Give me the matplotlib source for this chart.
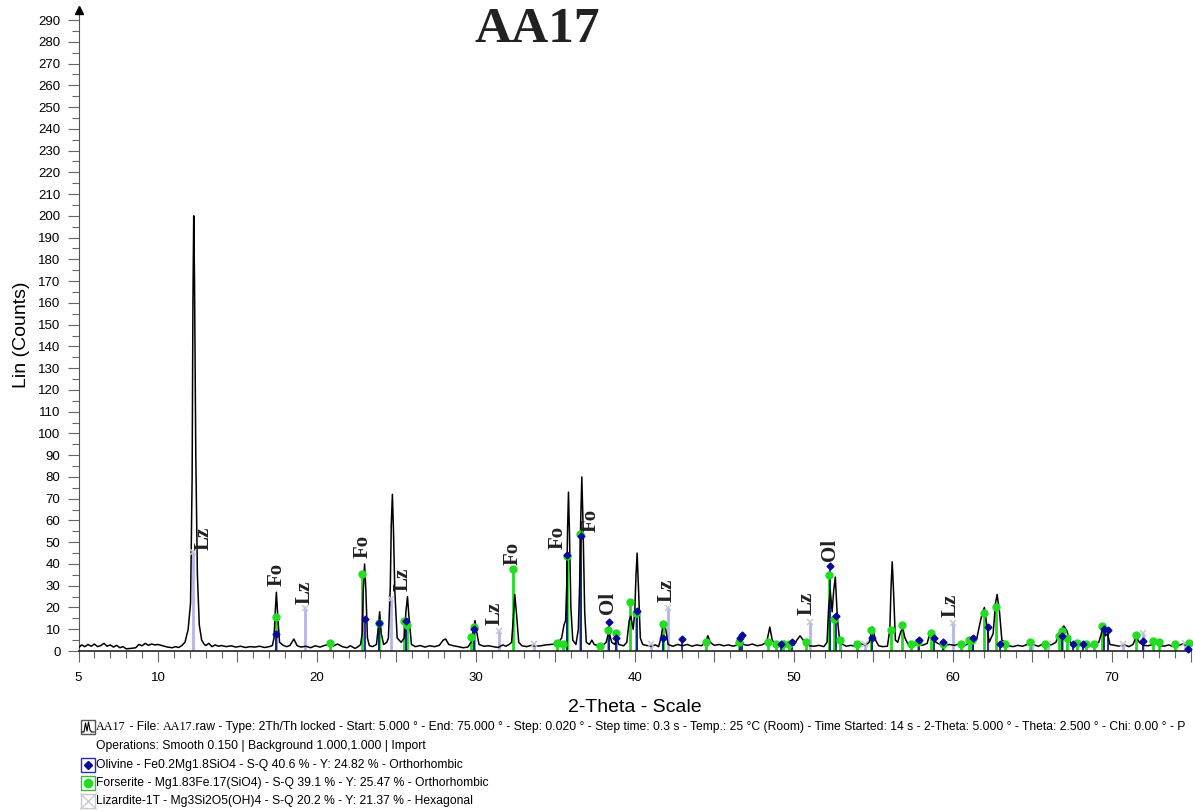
import matplotlib
matplotlib.use("Agg")
import matplotlib.pyplot as plt
from matplotlib.lines import Line2D
from matplotlib.patches import Rectangle
from matplotlib.ticker import MultipleLocator, FixedLocator, FuncFormatter
import numpy as np

plt.rcParams['font.family'] = ['Liberation Sans', 'DejaVu Sans']
SERIF = ['Liberation Serif', 'DejaVu Serif']

scan = [
    (5.0, 1.5), (5.2, 2.8), (5.4, 2.0), (5.6, 3.0), (5.8, 2.2), (6.0, 3.2), (6.2, 2.0),
    (6.4, 2.5), (6.6, 3.5), (6.8, 2.2), (7.0, 2.8), (7.2, 1.8), (7.4, 2.6), (7.6, 1.5),
    (7.8, 2.0), (8.0, 1.0), (8.3, 1.2), (8.6, 1.5), (8.8, 3.0), (9.0, 2.4), (9.2, 3.5),
    (9.4, 2.6), (9.6, 3.2), (9.8, 2.8), (10.0, 3.0), (10.3, 2.4), (10.6, 1.8), (10.9, 1.5),
    (11.1, 2.0), (11.3, 1.6), (11.5, 2.5), (11.7, 4), (11.9, 10), (12.05, 22), (12.15, 80),
    (12.2, 160), (12.25, 200), (12.3, 170), (12.38, 90), (12.48, 35), (12.6, 12), (12.75, 5),
    (12.9, 3.2), (13.0, 2.5),
    (13.2, 3.5), (13.4, 2.0), (13.6, 2.8), (13.8, 2.2), (14.0, 2.5), (14.3, 2.0), (14.6, 2.4),
    (14.9, 1.8), (15.2, 2.2), (15.5, 1.6), (15.8, 2.0), (16.1, 1.8), (16.4, 2.2), (16.7, 1.6),
    (17.0, 2.0), (17.2, 2.5), (17.3, 6), (17.38, 18), (17.45, 27), (17.53, 17), (17.65, 4),
    (17.9, 2.5),
    (18.1, 2.0), (18.3, 2.5), (18.55, 5.5), (18.75, 2.5), (19.0, 1.8), (19.3, 2.2), (19.6, 1.5),
    (19.9, 2.4), (20.2, 1.8), (20.5, 2.6), (20.8, 3.0), (21.0, 2.2), (21.3, 3.2), (21.6, 2.0),
    (21.9, 1.5), (22.1, 2.4), (22.4, 1.2), (22.6, 2.0), (22.75, 3), (22.85, 8), (22.92, 28),
    (23.0, 40), (23.08, 28), (23.18, 6), (23.3, 2.5), (23.5, 2), (23.75, 3), (23.85, 10),
    (23.95, 18), (24.05, 8),
    (24.2, 3), (24.4, 4), (24.5, 6), (24.62, 30), (24.68, 58), (24.75, 72), (24.82, 55),
    (24.9, 28), (25.05, 6), (25.3, 4),
    (25.5, 6), (25.6, 18), (25.7, 25), (25.8, 15), (25.95, 3), (26.2, 2), (26.5, 2.5),
    (26.8, 1.8), (27.1, 2.4), (27.4, 2.0), (27.7, 2.6), (27.95, 5), (28.1, 5.5), (28.3, 3),
    (28.6, 2.4), (28.9, 2.0), (29.2, 1.5), (29.5, 1.8), (29.7, 4), (29.85, 10), (29.95, 14),
    (30.05, 9), (30.2, 3), (30.5, 2.2), (30.8, 2.4), (31.1, 2.0), (31.4, 1.6), (31.7, 2.8),
    (31.9, 2.2), (32.1, 3.0), (32.25, 4), (32.35, 14), (32.45, 26), (32.55, 18), (32.7, 4),
    (32.9, 2.4), (33.2, 2.0), (33.5, 2.6), (33.8, 2.2), (34.1, 2.4), (34.4, 2.8), (34.7, 3.0),
    (35.0, 3.2), (35.2, 4), (35.4, 6), (35.55, 12), (35.65, 14), (35.72, 30), (35.77, 55),
    (35.83, 73), (35.89, 55), (35.98, 20), (36.1, 5), (36.3, 3), (36.45, 10), (36.53, 30),
    (36.6, 60), (36.67, 80), (36.74, 60), (36.85, 18),
    (36.95, 4), (37.15, 3), (37.3, 5), (37.45, 3), (37.7, 2.4), (38.0, 2.6), (38.2, 4),
    (38.37, 9), (38.55, 4), (38.75, 3), (38.87, 6), (39.0, 3), (39.3, 2.4), (39.5, 4),
    (39.65, 14), (39.75, 16), (39.9, 10), (40.0, 18), (40.08, 35), (40.15, 45), (40.23, 30),
    (40.35, 6), (40.5, 3),
    (40.7, 2.6), (41.0, 2.2), (41.3, 2.8), (41.5, 2.0), (41.65, 6), (41.8, 13), (41.95, 10),
    (42.1, 3), (42.4, 2.2), (42.7, 3.0), (43.0, 2.4), (43.3, 3.0), (43.6, 2.2), (43.9, 2.8),
    (44.2, 2.4), (44.45, 4), (44.6, 7), (44.75, 4), (45.0, 2.6), (45.3, 3.0), (45.6, 2.4),
    (45.9, 2.8), (46.2, 2.2), (46.5, 3.0), (46.7, 5), (46.85, 3), (47.1, 2.6), (47.4, 3.2),
    (47.7, 2.4), (48.0, 2.8), (48.3, 4), (48.5, 11), (48.65, 5), (48.85, 3), (49.0, 4),
    (49.2, 3), (49.4, 4.5), (49.6, 2.8), (49.8, 3.5), (50.0, 2.6), (50.2, 5), (50.4, 7),
    (50.6, 5), (50.8, 3), (51.0, 2.4), (51.3, 2.2), (51.6, 2.6), (51.9, 2.0), (52.1, 4),
    (52.2, 20), (52.3, 28), (52.42, 18), (52.52, 28), (52.62, 34), (52.75, 15), (52.9, 4),
    (53.1, 3), (53.3, 2.2), (53.6, 2.6), (53.9, 2.0), (54.2, 3.4), (54.5, 2.6), (54.75, 4),
    (54.95, 11), (55.15, 5), (55.35, 2.4), (55.6, 2.0), (55.9, 2.2), (56.05, 10), (56.13, 30),
    (56.2, 41), (56.28, 28), (56.4, 5), (56.55, 4), (56.7, 8), (56.85, 11), (57.0, 6), (57.2, 3),
    (57.5, 2.4),
    (57.8, 3.0), (58.1, 2.6), (58.4, 3.5), (58.6, 9), (58.75, 8), (58.95, 4), (59.2, 3),
    (59.5, 2.6), (59.8, 3.0), (60.1, 2.6), (60.4, 3.2), (60.7, 2.4), (60.9, 3.0), (61.1, 5),
    (61.3, 6), (61.5, 5), (61.7, 12), (61.85, 17), (62.0, 20), (62.15, 12), (62.3, 4),
    (62.55, 8), (62.7, 22), (62.8, 26), (62.95, 18), (63.1, 5), (63.3, 4), (63.5, 2.5),
    (63.8, 2.0), (64.1, 2.6), (64.4, 2.2), (64.7, 3.0), (64.9, 4), (65.1, 2.8), (65.4, 2.2),
    (65.7, 3.2), (65.9, 2.4), (66.2, 2.8), (66.5, 4), (66.75, 9), (67.0, 11.5), (67.2, 9),
    (67.4, 4), (67.6, 3.5), (67.8, 4), (68.0, 2.8), (68.3, 3.2), (68.6, 2.4), (68.9, 3.0),
    (69.2, 4), (69.4, 9), (69.5, 10.5), (69.62, 7), (69.75, 8), (69.9, 3), (70.2, 2.6),
    (70.5, 2.2), (70.8, 2.8), (71.1, 2.0), (71.35, 3), (71.55, 6.5), (71.75, 4), (72.0, 2.6),
    (72.3, 2.4), (72.6, 3.0), (72.8, 4), (73.0, 2.6), (73.3, 2.2), (73.6, 2.8), (73.9, 2.0),
    (74.2, 2.6), (74.5, 3.2), (74.8, 2.4), (75.0, 2.5),
]
scan_2theta = [p[0] for p in scan]
scan_counts = [p[1] for p in scan]

# reference sticks
ol_pos = [17.45, 23.0, 23.9, 25.6, 29.9, 35.75, 36.6, 38.35, 38.85, 40.13, 41.75, 43.0,
          46.6, 46.75, 49.2, 49.9, 52.28, 52.65, 54.95, 57.9, 58.8, 59.4, 61.3, 62.2,
          63.0, 66.9, 67.6, 68.2, 69.5, 69.75, 72.0, 74.8]
ol_int = [8, 14.5, 13, 14, 10, 44, 53, 13.5, 6, 18.5, 6, 5.5,
          6, 7.3, 3, 4, 39, 16, 6, 5, 6, 4, 6, 11,
          3, 7, 3, 3, 10, 9.6, 4.5, 1]

fo_pos = [17.42, 20.8, 22.85, 23.88, 25.5, 25.65, 29.67, 29.9, 32.35, 35.1, 35.5, 35.72,
          36.54, 37.8, 38.3, 38.82, 39.68, 40.08, 41.75, 44.5, 46.55, 48.4, 48.9, 49.3,
          49.7, 50.8, 52.2, 52.55, 52.9, 54.0, 54.85, 56.1, 56.8, 57.4, 57.8, 58.66,
          59.4, 60.5, 61.0, 61.2, 61.95, 62.75, 63.3, 64.84, 65.8, 66.7, 66.9, 67.2,
          67.8, 68.4, 68.9, 69.4, 71.55, 72.6, 73.0, 74.0, 74.9]
fo_int = [15.5, 3.5, 35.4, 13, 14, 12, 6.6, 11, 37.5, 3.5, 3, 43.5,
          54, 2.5, 9.6, 8.2, 22.7, 17.4, 12.4, 4, 4, 4, 3, 3,
          3, 4, 35, 14.5, 5, 3, 9.7, 9.6, 11.9, 3, 4, 8.2,
          3, 3, 5, 5, 17.4, 20.4, 3, 4, 3, 7, 9, 6,
          3.5, 3, 3, 11.4, 7.3, 4.5, 4, 3, 3.5]

lz_pos = [12.22, 19.27, 24.65, 31.43, 33.67, 41.05, 42.12, 51.05, 54.0, 54.5, 60.05,
          65.0, 66.0, 70.7, 72.0, 74.6]
lz_int = [45.6, 19.6, 23.7, 9.3, 3, 3, 19.6, 13.5, 3, 3, 12.7,
          3, 3, 3, 8.2, 3.5]

# phase labels written on the pattern
tag_text = ['Lz', 'Fo', 'Lz', 'Fo', 'Lz', 'Lz', 'Fo', 'Fo', 'Fo', 'Ol', 'Lz', 'Lz', 'Ol', 'Lz']
tag_x = [12.85, 17.48, 19.2, 22.85, 25.4, 31.2, 32.3, 35.15, 37.25, 38.3, 42.0, 50.8, 52.26, 59.9]
tag_y = [52, 35, 27, 48, 33, 17.5, 45, 52, 60, 22, 28, 22, 46.5, 21]

y_ticks = list(range(0, 300, 10))
x_ticks = [5, 10, 15, 20, 25, 30, 35, 40, 45, 50, 55, 60, 65, 70, 75]
x_tick_labels = [5, 10, 20, 30, 40, 50, 60, 70]

OL_C = '#0a0a9a'
FO_C = '#22dd22'
LZ_C = '#b4b4ec'
LZ_MK = '#c8c8d4'

W, H = 1193, 811
fig = plt.figure(figsize=(W / 100, H / 100), dpi=100)
ax = fig.add_axes([78.5 / W, 160 / H, (1191 - 78.5) / W, (651 - 10) / H])
ax.set_xlim(5, 75)
ax.set_ylim(0, 294.6)

# sticks
ax.vlines(lz_pos, 0, lz_int, colors=LZ_C, linewidth=2, zorder=2)
ax.vlines(fo_pos, 0, fo_int, colors=FO_C, linewidth=2, zorder=2.1)
ax.vlines(ol_pos, 0, ol_int, colors=OL_C, linewidth=1.2, zorder=2.2)

ax.plot(scan_2theta, scan_counts, color='black', linewidth=1.1, zorder=3)

ax.plot(lz_pos, lz_int, 'x', color=LZ_MK, markersize=5, mew=1.1, zorder=4, clip_on=False)
ax.plot(fo_pos, fo_int, 'o', color=FO_C, markersize=5, zorder=4.1, clip_on=False)
ax.plot(ol_pos, ol_int, 'D', color=OL_C, markersize=3.5, zorder=4.2, clip_on=False)

for s, x, y in zip(tag_text, tag_x, tag_y):
    ax.text(x, y, s, rotation=90, ha='center', va='center', fontsize=15,
            fontweight='bold', family=SERIF, color='#222222', zorder=5)

# axes styling
for side in ['top', 'right']:
    ax.spines[side].set_visible(False)
ax.spines['left'].set_color('#555555')
ax.spines['bottom'].set_color('#222222')
ax.spines['bottom'].set_linewidth(1.2)
ax.plot(5, 1, marker='^', color='black', markersize=6, transform=ax.get_xaxis_transform(),
        clip_on=False, zorder=6)

ax.yaxis.set_major_locator(FixedLocator(y_ticks))
ax.yaxis.set_minor_locator(MultipleLocator(5))
ax.xaxis.set_major_locator(FixedLocator(x_ticks))
ax.xaxis.set_minor_locator(MultipleLocator(1))
ax.xaxis.set_major_formatter(FuncFormatter(lambda v, p: str(int(v)) if int(v) in x_tick_labels else ''))
ax.tick_params(axis='y', which='major', direction='out', length=8, width=0.8,
               color='#666666', labelsize=9.5, pad=5)
ax.tick_params(axis='y', which='minor', direction='out', length=5, width=0.8, color='#666666')
ax.tick_params(axis='x', which='major', direction='out', length=8, width=0.8,
               color='#666666', labelsize=9.5, pad=7)
ax.tick_params(axis='x', which='minor', direction='out', length=5, width=0.8, color='#666666')

fig.text(537 / W, 1 - 30 / H, 'AA17', fontsize=37, fontweight='bold', family=SERIF,
         ha='center', va='center', color='#222222')
fig.text(635 / W, 1 - 707 / H, '2-Theta - Scale', fontsize=14, ha='center', va='center')
fig.text(22 / W, 1 - 335 / H, 'Lin (Counts)', fontsize=14, rotation=90, ha='center', va='center')

# legend block under the plot
LEG_FS = 8.7
rows_y = [727, 746, 765, 783, 801]


def fx(px):
    return px / W


def fy(py):
    return 1 - py / H


# first row: mixed fonts, chained
parts = [('AA17', True), (' - File: ', False), ('AA17', True),
         ('.raw - Type: 2Th/Th locked - Start: 5.000 ° - End: 75.000 ° - Step: 0.020 ° - Step time: 0.3 s'
          ' - Temp.: 25 °C (Room) - Time Started: 14 s - 2-Theta: 5.000 ° - Theta: 2.500 ° - Chi: 0.00 ° - P', False)]
prev = fig.text(fx(96), fy(rows_y[0]), parts[0][0], fontsize=LEG_FS, family=SERIF, va='center')
for txt, serif in parts[1:]:
    prev = ax.annotate(txt, xy=(1, 0.5), xycoords=prev, va='center', ha='left',
                       fontsize=LEG_FS, family=SERIF if serif else None,
                       annotation_clip=False)

fig.text(fx(96), fy(rows_y[1]), 'Operations: Smooth 0.150 | Background 1.000,1.000 | Import',
         fontsize=LEG_FS, va='center')
legend_rows = ['Olivine - Fe0.2Mg1.8SiO4 - S-Q 40.6 % - Y: 24.82 % - Orthorhombic',
               'Forserite - Mg1.83Fe.17(SiO4) - S-Q 39.1 % - Y: 25.47 % - Orthorhombic',
               'Lizardite-1T - Mg3Si2O5(OH)4 - S-Q 20.2 % - Y: 21.37 % - Hexagonal']
box_edges = ['#2a2ac0', '#33c033', '#c8c8d8']
box_marks = [('D', OL_C, 4), ('o', FO_C, 6), ('x', LZ_MK, 11)]
for txt, yy, ec, (mk, mc, ms) in zip(legend_rows, rows_y[2:], box_edges, box_marks):
    fig.text(fx(96), fy(yy), txt, fontsize=LEG_FS, va='center')
    fig.add_artist(Rectangle((fx(81), fy(yy + 7)), 14 / W, 14 / H, transform=fig.transFigure,
                             facecolor='white', edgecolor=ec, linewidth=1))
    fig.add_artist(Line2D([fx(88)], [fy(yy)], marker=mk, color=mc, markersize=ms, mew=1,
                          transform=fig.transFigure))

# small scan icon for the first row
y0 = rows_y[0]
fig.add_artist(Rectangle((fx(81), fy(y0 + 7)), 14 / W, 14 / H, transform=fig.transFigure,
                         facecolor='white', edgecolor='#555555', linewidth=1))
icon_x = [82, 84, 85.5, 87, 88.5, 90, 91.5, 94]
icon_y = [5, 5, -4, 4, -5, 3, 5, 5]
fig.add_artist(Line2D([fx(v) for v in icon_x], [fy(y0 + v) for v in icon_y], color='black',
                      linewidth=0.8, transform=fig.transFigure))

fig.savefig('out.png', dpi=100)
